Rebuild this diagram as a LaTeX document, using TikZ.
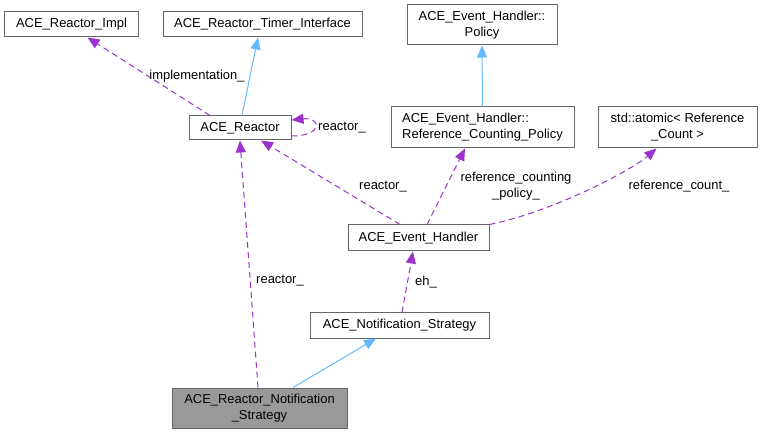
\documentclass[tikz,border=0pt]{standalone}
\usepackage{fontspec}
\setmainfont{Liberation Sans}
\usetikzlibrary{arrows.meta}
\definecolor{edgeblue}{HTML}{63B8FF}
\definecolor{edgepurple}{HTML}{9A32CD}
\definecolor{boxgray}{HTML}{666666}
\def\classnode{\node[draw=boxgray,fill=white,line width=1bp,inner sep=0pt,align=center]}

\begin{document}
\begin{tikzpicture}[x=1bp,y=-1bp,font=\fontsize{13}{16}\selectfont,
  inherit/.style={draw=edgeblue,line width=1bp,-{Triangle[length=12bp,width=10bp]}},
  usage/.style={draw=edgepurple,line width=1bp,dash pattern=on 6bp off 4bp,-{Triangle[length=12bp,width=10bp]}}]
\useasboundingbox (0,0) rectangle (762,433);
\classnode[minimum width=133bp,minimum height=25bp] (impl) at (71.5,24.5) {ACE\_Reactor\_Impl};
\classnode[minimum width=199bp,minimum height=25bp] (timer) at (262.5,24.5) {ACE\_Reactor\_Timer\_Interface};
\classnode[minimum width=150bp,minimum height=40bp] (policy) at (482,25) {ACE\_Event\_Handler::\\Policy};
\classnode[minimum width=102bp,minimum height=24bp] (reactor) at (240,128) {ACE\_Reactor};
\classnode[minimum width=183bp,minimum height=41bp,align=left] (refpol) at (482.5,127.5) {ACE\_Event\_Handler::\\Reference\_Counting\_Policy};
\classnode[minimum width=159bp,minimum height=41bp] (atomic) at (677.5,127.5) {std::atomic< Reference\\\_Count >};
\classnode[minimum width=141bp,minimum height=26bp] (evh) at (418.5,238) {ACE\_Event\_Handler};
\classnode[minimum width=179bp,minimum height=25bp] (notif) at (399.5,325.5) {ACE\_Notification\_Strategy};
\classnode[minimum width=175bp,minimum height=40bp,fill={rgb,255:red,153;green,153;blue,153}] (rns) at (259.5,408) {ACE\_Reactor\_Notification\\\_Strategy};
\draw[usage] ([xshift=-30bp]reactor.north) -- ([xshift=16bp]impl.south);
\draw[inherit] ([xshift=2bp]reactor.north) -- ([xshift=-4.5bp]timer.south);
\draw[usage] ([yshift=-8bp]reactor.east) .. controls +(32,0) and +(30,-3) .. ([yshift=8bp]reactor.east);
\draw[usage] ([xshift=-18.5bp]evh.north) -- ([xshift=21bp]reactor.south);
\draw[usage] ([xshift=8.5bp]evh.north) -- ([xshift=-17.5bp]refpol.south);
\draw[usage] (evh.north east) .. controls +(60,-12) and +(-28,24) .. ([xshift=-21bp]atomic.south);
\draw[inherit] (refpol.north) -- (policy.south);
\draw[usage] ([xshift=2.5bp]notif.north) -- ([xshift=-5.5bp]evh.south);
\draw[inherit] ([xshift=33.5bp]rns.north) -- ([xshift=-23.5bp]notif.south);
\draw[usage] ([xshift=-1.5bp]rns.north) -- (reactor.south);
\node (lblimpl) at (197,76) {implementation\_};
\node (lblself) at (342,128) {reactor\_};
\node (lblevh) at (383,187) {reactor\_};
\node[align=center] (lblrefpol) at (516,186) {reference\_counting\\\_policy\_};
\node (lblatomic) at (679,186) {reference\_count\_};
\node (lbleh) at (426,282) {eh\_};
\node (lblrns) at (280,281) {reactor\_};
\end{tikzpicture}
\end{document}
